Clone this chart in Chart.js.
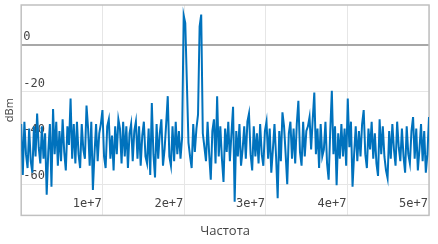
<!DOCTYPE html>
<html>
<head>
<meta charset="utf-8">
<script src="https://cdn.jsdelivr.net/npm/chart.js@4/dist/chart.umd.min.js"></script>
<style>
  html, body { margin: 0; padding: 0; background: #fff; }
</style>
</head>
<body>
<canvas id="spectrumChart" width="438" height="244"></canvas>
<script>
// spectrum bins, 0 .. 50 MHz
const binHz = 195312.5;
const levelDbm = [
  -34, -56, -33, -47, -53, -36, -50, -55, -35, -48,
  -29.5, -44, -51, -35, -49, -38, -64.5, -46, -34, -61,
  -27.5, -47, -33, -52, -37, -50, -32, -46, -54, -35,
  -43, -23, -49, -34, -51, -33, -47, -53, -34, -45,
  -49, -26, -36, -52, -33, -62.4, -47, -34, -50, -38,
  -34, -28, -48, -53, -35, -32, -49, -39, -54, -35,
  -47, -32, -36, -51, -33, -48, -35, -53, -38, -34,
  -50, -37, -33, -49, -35, -52, -39, -33, -48, -51,
  -36, -56, -25, -47, -57, -34, -49, -38, -32, -52,
  -45, -34, -22, -48, -52, -35, -50, -33, -47, -37,
  -49, -40, 12.8, 9.5, -16, -42, -48, -53, -34, -46,
  -36, -30, 8, 13.2, -38, -44, -50, -33, -47, -58,
  -37, -32, -51, -22, -48, -35, -49, -59, -36, -46,
  -33, -50, -38, -26.6, -67.5, -37, -48, -34, -52, -45,
  -35, -49, -33, -29.5, -47, -54, -35, -48, -38, -51,
  -34, -47, -52, -37, -33, -49, -36, -55, -45, -34,
  -48, -66, -37, -50, -29, -35, -47, -60, -38, -33,
  -49, -36, -51, -34, -24, -46, -52, -33, -48, -37,
  -35, -31, -45, -32, -20.4, -47, -36, -53, -34, -48,
  -45, -33, -51, -58, -37, -19.7, -47, -35, -60.4, -38,
  -49, -34, -48, -36, -52, -23, -44, -33, -61, -47,
  -35, -50, -37, -48, -34, -28, -47, -53, -36, -45,
  -33, -49, -38, -51, -56.4, -32, -47, -35, -48, -54,
  -57.4, -37, -49, -34, -45, -52, -33, -44, -50, -36,
  -48, -55, -35, -47, -51, -37, -31, -49, -36, -54,
  -45, -34, -50, -37, -55, -47, -31
];
const freqHz = levelDbm.map((_, i) => i * binHz);

const xTicks = [1e7, 2e7, 3e7, 4e7, 5e7];
const xTickLabels = ["1e+7", "2e+7", "3e+7", "4e+7", "5e+7"];
const yTicks = [-60, -40, -20, 0];

// light frame round the plot area
const frame = {
  id: "frame",
  beforeDatasetsDraw(chart) {
    const a = chart.chartArea, c = chart.ctx;
    c.save();
    c.strokeStyle = "#c0c0c0";
    c.lineWidth = 1.5;
    c.strokeRect(a.left, a.top, a.right - a.left, a.bottom - a.top);
    c.restore();
  }
};

new Chart(document.getElementById("spectrumChart"), {
  type: "line",
  data: {
    datasets: [{
      data: freqHz.map((f, i) => ({ x: f, y: levelDbm[i] })),
      borderColor: "#0072bd",
      borderWidth: 2,
      pointRadius: 0,
      tension: 0
    }]
  },
  options: {
    responsive: false,
    animation: false,
    devicePixelRatio: 1,
    layout: { padding: { top: 5, right: 9, left: 0, bottom: 0 } },
    plugins: { legend: { display: false }, tooltip: { enabled: false } },
    scales: {
      x: {
        type: "linear",
        min: 0,
        max: 5e7,
        afterBuildTicks: (s) => { s.ticks = xTicks.map(v => ({ value: v })); },
        border: { display: false },
        grid: { color: "#e6e6e6", lineWidth: 1, drawTicks: false },
        ticks: {
          mirror: true,
          align: "end",
          padding: 4,
          labelOffset: -1,
          maxRotation: 0,
          color: "#444",
          font: { family: "DejaVu Sans Mono", size: 12 },
          callback: (v) => xTickLabels[xTicks.indexOf(v)]
        },
        title: {
          display: true,
          text: "Частота",
          color: "#444",
          font: { family: "Open Sans", size: 13 },
          padding: { top: 0, bottom: 5 }
        }
      },
      y: {
        min: -73.4,
        max: 17.3,
        afterBuildTicks: (s) => { s.ticks = yTicks.map(v => ({ value: v })); },
        border: { display: false },
        grid: {
          drawTicks: false,
          color: (c) => c.tick && c.tick.value === 0 ? "#a8a8a8" : "#e6e6e6",
          lineWidth: (c) => c.tick && c.tick.value === 0 ? 2 : 1
        },
        ticks: {
          mirror: true,
          padding: 2,
          labelOffset: -8,
          color: "#444",
          font: { family: "DejaVu Sans Mono", size: 12, lineHeight: 0.5 }
        },
        title: {
          display: true,
          text: "dBm",
          color: "#444",
          font: { family: "Open Sans", size: 11 },
          padding: { top: 3, bottom: 1 }
        }
      }
    }
  },
  plugins: [frame]
});
</script>
</body>
</html>
